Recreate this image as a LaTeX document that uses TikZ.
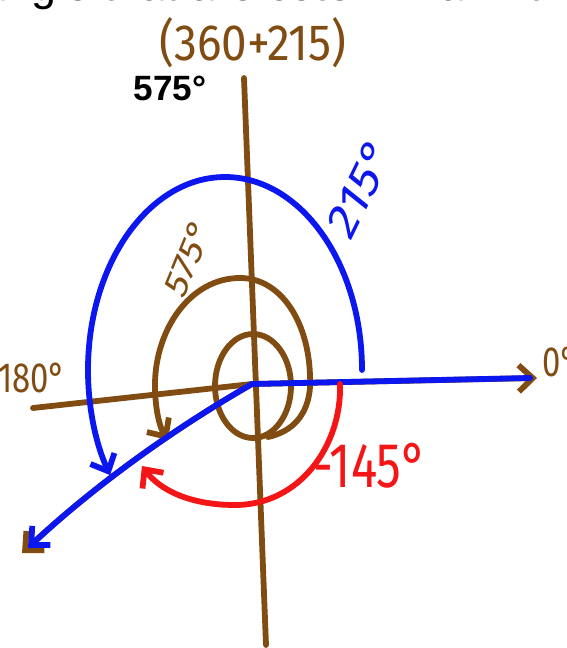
\documentclass[tikz,border=0pt]{standalone}
\usepackage{fontspec}
\setmainfont{Liberation Sans}
\newfontfamily\handfont{Fira Sans}
\usetikzlibrary{arrows.meta}

\definecolor{penbrown}{RGB}{128,76,18}
\definecolor{penblue}{RGB}{12,22,238}
\definecolor{penred}{RGB}{244,22,22}

\begin{document}
\begin{tikzpicture}[x=0.02cm, y=-0.02cm, line cap=round, line join=round,
  brownpen/.style={draw=penbrown, line width=3.3pt},
  bluepen/.style={draw=penblue, line width=3.3pt},
  redpen/.style={draw=penred, line width=3.3pt},
  barb/.style={-{Straight Barb[length=8pt, width=15pt]}},
  hand/.style={inner sep=0pt, xscale=0.78},
]
  \useasboundingbox (0,0) rectangle (567,648);
  \clip (0,0) rectangle (567,648);
  \coordinate (O)  at (252,384);
  \coordinate (xW) at (33,408);
  \coordinate (xE) at (537,378);
  \coordinate (yN) at (244,78);
  \coordinate (yS) at (266,645);
  \coordinate (T)  at (22,553);
  \coordinate (bS) at (362,370);
  \coordinate (rS) at (340,384);
  \coordinate (sS) at (268,437);
  % axes and terminal side
  \draw[brownpen] (yN) -- (yS);
  \draw[brownpen, barb] (xW) -- (O) -- (xE);
  \draw[brownpen, barb] (O) .. controls (175,428) and (95,485) .. (T);
  % 575 spiral
  \draw[brownpen] (253,386) ellipse [x radius=38, y radius=52];
  \draw[brownpen, barb] (sS) .. controls (300,430) and (312,405) .. (310,375)
    .. controls (308,320) and (280,278) .. (240,278)
    .. controls (190,278) and (155,330) .. (155,385)
    .. controls (155,410) and (160,428) .. (168,440);
  % 215 arc
  \draw[bluepen] (O) -- (530,378);
  \draw[bluepen, barb] (O) .. controls (175,428) and (95,485) .. (28,548);
  \draw[bluepen, barb] (bS) arc[start angle=0, end angle=-213, x radius=137, y radius=193];
  % -145 arc
  \draw[redpen, barb] (rS) .. controls (342,445) and (300,505) .. (235,505)
    .. controls (190,505) and (160,490) .. (142,466);
  % labels
  \node[anchor=base west, font=\fontsize{25.5}{26}\selectfont] (title) at (-25,1) {angle that are coterminal with};
  \node[inner sep=0pt, xscale=0.9, text=penbrown, font=\handfont\fontsize{29}{30}\selectfont] (sum) at (253,43) {(360+215)};
  \node[font=\bfseries\fontsize{20}{20}\selectfont] (big) at (170,88) {575°};
  \node[hand, text=penblue, rotate=58, font=\handfont\fontsize{31}{31}\selectfont] (blbl) at (360,188) {215°};
  \node[hand, text=penbrown, rotate=62, font=\handfont\fontsize{24}{24}\selectfont] (slbl) at (188,258) {575°};
  \node[hand, text=penbrown, font=\handfont\fontsize{24}{24}\selectfont] (west) at (32,378) {180°};
  \node[hand, text=penbrown, font=\handfont\fontsize{24}{24}\selectfont] (east) at (560,362) {0°};
  \node[hand, text=penred, font=\handfont\fontsize{36}{36}\selectfont] (rlbl) at (370,466) {-145°};
\end{tikzpicture}
\end{document}
